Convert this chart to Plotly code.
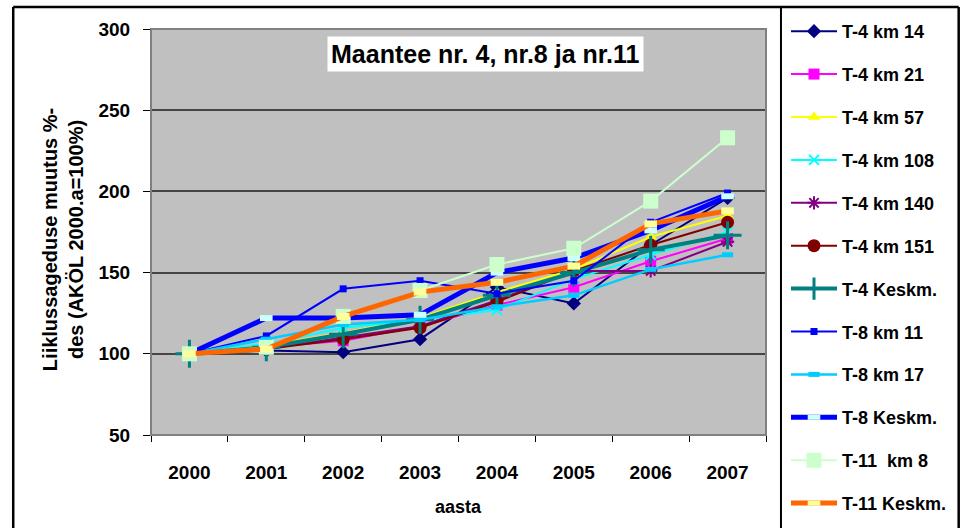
import plotly.graph_objects as go

# ---------------- data ----------------
years = ["2000", "2001", "2002", "2003", "2004", "2005", "2006", "2007"]

t4_km14 = [100, 102, 101, 109, 141, 131, 167, 196]
t4_km21 = [100, 104, 108, 117, 130, 141, 157, 171]
t4_km57 = [100, 105, 113, 122, 138, 152, 172, 185]
t4_km108 = [100, 106, 116, 121, 127, 146, 161, 175]
t4_km140 = [100, 103, 110, 117, 133, 151, 151, 169]
t4_km151 = [100, 103, 109, 116, 132, 151, 167, 181]
t4_keskm = [100, 104, 112, 121, 136, 150, 164, 173]
t8_km11 = [100, 111, 140, 145, 137, 145, 181, 199]
t8_km17 = [100, 109, 118, 121, 129, 136, 152, 161]
t8_keskm = [100, 122, 122, 124, 150, 159, 176, 197]
t11_km8 = [100, 104, 123, 139, 155, 165, 194, 233]
t11_keskm = [100, 103, 123, 138, 144, 154, 180, 188]

series_names = ["T-4 km 14", "T-4 km 21", "T-4 km 57", "T-4 km 108", "T-4 km 140",
                "T-4 km 151", "T-4 Keskm.", "T-8 km 11", "T-8 km 17", "T-8 Keskm.",
                "T-11\u00a0 km 8", "T-11 Keskm."]
series_values = [t4_km14, t4_km21, t4_km57, t4_km108, t4_km140, t4_km151,
                 t4_keskm, t8_km11, t8_km17, t8_keskm, t11_km8, t11_keskm]

title_text = "Maantee nr. 4, nr.8 ja nr.11"
y_title = "Liiklussageduse muutus %-<br>des (AKÖL 2000.a=100%)"
x_title = "aasta"

# ---------------- styles ----------------
styles = [
    dict(lc="#000080", lw=2, sym="diamond", ms=11, mc="#000080", mlw=0),
    dict(lc="#FF00FF", lw=2, sym="square", ms=11, mc="#FF00FF", mlw=0),
    dict(lc="#FFFF00", lw=2, sym="triangle-up", ms=11, mc="#FFFF00", mlw=0),
    dict(lc="#00FFFF", lw=2, sym="x-thin", ms=10, mc="#00FFFF", mlw=2),
    dict(lc="#800080", lw=2, sym="asterisk", ms=11, mc="#800080", mlw=2),
    dict(lc="#800000", lw=2, sym="circle", ms=13, mc="#800000", mlw=0),
    dict(lc="#008080", lw=4, sym="cross-thin", ms=20, mc="#008080", mlw=3),
    dict(lc="#0000FF", lw=2, sym="square", ms=7, mc="#0000FF", mlw=0),
    dict(lc="#00CCFF", lw=2.5, sym="line-ew", ms=8, mc="#00CCFF", mlw=5),
    dict(lc="#0000FF", lw=5, sym="line-ew", ms=9, mc="#CCFFFF", mlw=6),
    dict(lc="#CCFFCC", lw=2, sym="square", ms=15, mc="#CCFFCC", mlw=0),
    dict(lc="#FF6600", lw=5, sym="line-ew", ms=9, mc="#FFFF99", mlw=7),
]

FONT = "Liberation Sans, Arial, sans-serif"
W, H = 963, 528
L, R, T, B = 151, 767, 29, 435  # plot area in px


def px(x):
    return (x - L) / (R - L)


def py(y):
    return (B - y) / (B - T)


fig = go.Figure()
for i, (name, vals, st) in enumerate(zip(series_names, series_values, styles)):
    fig.add_trace(go.Scatter(
        x=years, y=vals, name=name, mode="lines+markers",
        legendgroup=f"g{i}",
        line=dict(color=st["lc"], width=st["lw"]),
        marker=dict(symbol=st["sym"], size=st["ms"], color=st["mc"],
                    line=dict(width=st["mlw"], color=st["mc"])),
    ))


def hline(x0, x1, y, w=2.5, c="black"):
    return dict(type="line", xref="paper", yref="paper", x0=px(x0), x1=px(x1), y0=py(y), y1=py(y),
                line=dict(color=c, width=w), layer="above")


def vline(x, y0, y1, w=2.5, c="black"):
    return dict(type="line", xref="paper", yref="paper", x0=px(x), x1=px(x), y0=py(y0), y1=py(y1),
                line=dict(color=c, width=w), layer="above")


shapes = [
    # outer chart border
    hline(13, 960, 7),
    vline(13, 7, 540),
    vline(960, 7, 540),
    # legend box left border
    vline(782, 7, 540, w=2),
    # plot area border
    dict(type="rect", xref="paper", yref="paper", x0=0, x1=1, y0=0, y1=1,
         line=dict(color="#808080", width=2), fillcolor="rgba(0,0,0,0)", layer="above"),
]

annotations = [
    dict(text=f"<b>{title_text}</b>", xref="paper", yref="paper", x=px(486), y=py(54),
         xanchor="center", yanchor="middle", showarrow=False, bgcolor="white", borderpad=3,
         font=dict(family=FONT, size=25, color="black")),
    dict(text=f"<b>{y_title}</b>", xref="paper", yref="paper", x=px(63), y=py(240),
         xanchor="center", yanchor="middle", showarrow=False, textangle=-90,
         font=dict(family=FONT, size=20, color="black")),
    dict(text=f"<b>{x_title}</b>", xref="paper", yref="paper", x=px(459), y=py(507),
         xanchor="center", yanchor="middle", showarrow=False,
         font=dict(family=FONT, size=18, color="black")),
]

fig.update_layout(
    width=W, height=H,
    margin=dict(l=L, r=W - R, t=T, b=H - B, pad=0),
    paper_bgcolor="white", plot_bgcolor="#C0C0C0",
    font=dict(family=FONT, size=18, color="black"),
    showlegend=True,
    legend=dict(x=px(786), y=py(13), xanchor="left", yanchor="top",
                bgcolor="rgba(0,0,0,0)", borderwidth=0, tracegroupgap=16.5,
                maxheight=600,
                itemwidth=46, font=dict(family=FONT, size=18, color="black", weight="bold")),
    xaxis=dict(type="category", range=[-0.5, 7.5], showline=True, linecolor="black", linewidth=1,
               ticks="outside", tickson="boundaries", ticklen=6, tickcolor="black",
               showgrid=False, ticklabelstandoff=20,
               tickfont=dict(family=FONT, size=19, color="black", weight="bold")),
    yaxis=dict(range=[50, 300], dtick=50, showline=True, linecolor="black", linewidth=1,
               ticks="outside", ticklen=7, tickcolor="black", showgrid=True,
               gridcolor="#454545", gridwidth=1.5, zeroline=False, ticklabelstandoff=9,
               tickfont=dict(family=FONT, size=19, color="black", weight="bold")),
    shapes=shapes, annotations=annotations,
)

fig.write_html("out.html", config={"displayModeBar": False},
               post_script="document.body.style.margin='0';")
